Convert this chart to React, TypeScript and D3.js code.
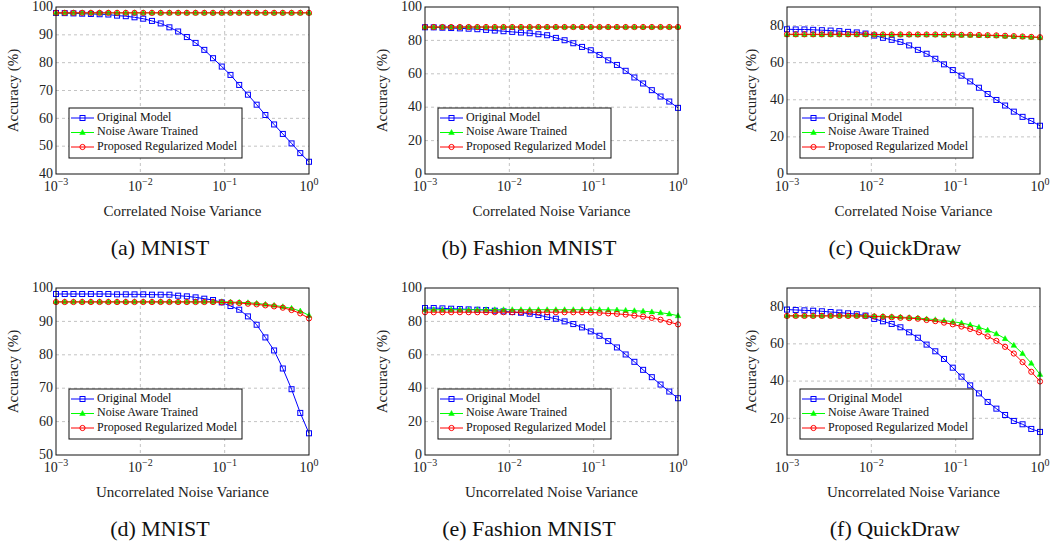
import React, { useRef, useEffect } from 'react';
import * as d3 from 'd3';

// noise variance grid (30 log-spaced points, 1e-3 .. 1)
const variance = [
  0.001, 0.001269, 0.00161, 0.002043, 0.002593, 0.00329, 0.004175, 0.005298, 0.006723, 0.008532,
  0.010826, 0.013738, 0.017433, 0.022122, 0.028072, 0.035622, 0.045204, 0.057362, 0.07279, 0.092367,
  0.11721, 0.148735, 0.188739, 0.239503, 0.30392, 0.385662, 0.48939, 0.621017, 0.788046, 1.0,
];

const seriesNames = ['Original Model', 'Noise Aware Trained', 'Proposed Regularized Model'];

// (a) MNIST, correlated
const mnistCorrOriginal = [97.85, 97.8, 97.7, 97.6, 97.5, 97.4, 97.3, 96.9, 96.7, 96.3, 95.8, 95.0, 94.1, 92.7, 91.2, 89.2, 87.1, 84.6, 81.6, 78.6, 75.6, 72.0, 68.5, 64.9, 61.2, 57.8, 54.4, 51.0, 47.5, 44.4];
const mnistCorrAware = [97.9, 97.9, 97.9, 97.9, 97.9, 97.9, 97.9, 97.9, 97.9, 97.9, 97.9, 97.9, 97.9, 97.9, 97.9, 97.9, 97.9, 97.9, 97.9, 97.9, 97.9, 97.9, 97.9, 97.9, 97.9, 97.9, 97.9, 97.9, 97.9, 97.9];
const mnistCorrReg = [97.9, 97.9, 97.9, 97.9, 97.9, 97.9, 97.9, 97.9, 97.9, 97.9, 97.9, 97.9, 97.9, 97.9, 97.9, 97.9, 97.9, 97.9, 97.9, 97.9, 97.9, 97.9, 97.9, 97.9, 97.9, 97.9, 97.9, 97.9, 97.9, 97.9];

// (b) Fashion MNIST, correlated
const fashionCorrOriginal = [87.85, 87.8, 87.6, 87.4, 87.2, 87.0, 86.7, 86.3, 85.9, 85.5, 85.1, 84.7, 84.3, 83.7, 83.1, 81.5, 80.1, 78.3, 76.1, 74.1, 71.3, 68.1, 65.3, 61.8, 57.8, 54.2, 50.2, 46.4, 43.4, 39.6];
const fashionCorrAware = [88.0, 88.0, 88.0, 88.0, 88.0, 88.0, 88.0, 88.0, 88.0, 88.0, 88.0, 88.0, 88.0, 88.0, 88.0, 88.0, 88.0, 88.0, 88.0, 88.0, 88.0, 88.0, 88.0, 88.0, 88.0, 88.0, 88.0, 88.0, 88.0, 88.0];
const fashionCorrReg = [88.0, 88.0, 88.0, 88.0, 88.0, 88.0, 88.0, 88.0, 88.0, 88.0, 88.0, 88.0, 88.0, 88.0, 88.0, 88.0, 88.0, 88.0, 88.0, 88.0, 88.0, 88.0, 88.0, 88.0, 88.0, 88.0, 88.0, 88.0, 88.0, 88.0];

// (c) QuickDraw, correlated
const quickCorrOriginal = [78.0, 77.9, 77.9, 77.7, 77.5, 77.3, 77.0, 76.6, 76.3, 75.7, 74.6, 73.4, 72.3, 71.2, 69.3, 66.9, 64.8, 62.1, 59.1, 56.0, 53.0, 49.9, 46.5, 43.1, 39.9, 36.9, 33.6, 30.8, 28.6, 26.0];
const quickCorrAware = [75.1, 75.1, 75.1, 75.1, 75.1, 75.1, 75.1, 75.1, 75.1, 75.1, 75.0, 75.0, 75.0, 75.0, 75.0, 75.0, 75.0, 75.0, 74.9, 74.9, 74.8, 74.8, 74.7, 74.6, 74.5, 74.3, 74.1, 73.9, 73.7, 73.5];
const quickCorrReg = [75.3, 75.3, 75.3, 75.3, 75.3, 75.3, 75.3, 75.3, 75.3, 75.3, 75.2, 75.2, 75.2, 75.2, 75.2, 75.2, 75.2, 75.2, 75.1, 75.1, 75.0, 75.0, 74.9, 74.8, 74.7, 74.5, 74.3, 74.1, 73.9, 73.7];

// (d) MNIST, uncorrelated
const mnistUncOriginal = [98.2, 98.2, 98.2, 98.2, 98.2, 98.2, 98.2, 98.1, 98.1, 98.1, 98.1, 98.0, 98.0, 98.0, 97.7, 97.5, 97.2, 96.8, 96.4, 95.7, 94.6, 93.5, 91.5, 89.0, 85.2, 81.3, 75.9, 69.7, 62.6, 56.5];
const mnistUncAware = [95.9, 95.9, 95.9, 95.9, 95.9, 95.9, 95.9, 95.9, 95.9, 95.9, 95.9, 95.9, 95.9, 95.9, 95.9, 95.9, 95.9, 95.9, 95.9, 95.9, 95.8, 95.7, 95.6, 95.4, 95.1, 94.8, 94.4, 93.9, 93.1, 91.8];
const mnistUncReg = [95.8, 95.8, 95.8, 95.8, 95.8, 95.8, 95.8, 95.8, 95.8, 95.8, 95.8, 95.8, 95.8, 95.8, 95.8, 95.8, 95.8, 95.8, 95.8, 95.7, 95.6, 95.5, 95.3, 95.1, 94.8, 94.5, 94.1, 93.4, 92.4, 90.9];

// (e) Fashion MNIST, uncorrelated
const fashionUncOriginal = [88.0, 88.0, 87.8, 87.6, 87.4, 87.2, 87.0, 86.8, 86.4, 86.0, 85.6, 85.2, 84.6, 83.8, 82.6, 81.6, 80.0, 78.4, 76.4, 74.0, 71.4, 68.2, 64.4, 60.2, 55.8, 51.0, 46.6, 42.2, 38.0, 34.0];
const fashionUncAware = [87.0, 87.0, 87.0, 87.0, 87.0, 87.0, 87.0, 87.0, 87.0, 87.0, 87.0, 87.0, 87.0, 87.0, 87.0, 87.0, 87.0, 87.0, 87.0, 87.0, 87.0, 86.9, 86.8, 86.6, 86.4, 86.1, 85.7, 85.2, 84.5, 83.4];
const fashionUncReg = [85.5, 85.5, 85.5, 85.5, 85.5, 85.5, 85.5, 85.5, 85.5, 85.5, 85.5, 85.5, 85.5, 85.5, 85.5, 85.5, 85.5, 85.5, 85.5, 85.3, 85.1, 84.8, 84.5, 84.1, 83.5, 82.9, 82.1, 81.0, 79.6, 78.2];

// (f) QuickDraw, uncorrelated
const quickUncOriginal = [78.4, 78.2, 78.0, 77.8, 77.5, 77.1, 76.8, 76.4, 75.9, 75.2, 73.4, 72.1, 70.7, 68.9, 66.2, 63.3, 59.6, 56.0, 51.9, 47.2, 42.4, 37.7, 33.4, 28.8, 25.2, 21.8, 18.6, 16.8, 14.3, 12.7];
const quickUncAware = [75.1, 75.1, 75.1, 75.1, 75.1, 75.1, 75.1, 75.1, 75.1, 75.0, 74.9, 74.8, 74.6, 74.4, 74.1, 73.9, 73.4, 73.0, 72.5, 71.9, 71.2, 70.2, 68.9, 67.3, 65.4, 62.8, 59.2, 54.8, 49.6, 43.6];
const quickUncReg = [75.0, 75.0, 75.0, 75.0, 75.0, 75.0, 75.0, 75.0, 75.0, 74.9, 74.7, 74.5, 74.3, 74.0, 73.8, 73.5, 72.8, 72.2, 71.4, 70.5, 69.3, 68.0, 66.2, 64.0, 61.6, 58.4, 54.8, 50.2, 45.0, 39.8];

const xTicks = [-3, -2, -1, 0];

const panels = [
  { caption: '(a) MNIST', xlabel: 'Correlated Noise Variance', col: 0, row: 0, yDomain: [40, 100], yTicks: [40, 50, 60, 70, 80, 90, 100], series: [mnistCorrOriginal, mnistCorrAware, mnistCorrReg] },
  { caption: '(b) Fashion MNIST', xlabel: 'Correlated Noise Variance', col: 1, row: 0, yDomain: [0, 100], yTicks: [0, 20, 40, 60, 80, 100], series: [fashionCorrOriginal, fashionCorrAware, fashionCorrReg] },
  { caption: '(c) QuickDraw', xlabel: 'Correlated Noise Variance', col: 2, row: 0, yDomain: [0, 90], yTicks: [0, 20, 40, 60, 80], series: [quickCorrOriginal, quickCorrAware, quickCorrReg] },
  { caption: '(d) MNIST', xlabel: 'Uncorrelated Noise Variance', col: 0, row: 1, yDomain: [50, 100], yTicks: [50, 60, 70, 80, 90, 100], series: [mnistUncOriginal, mnistUncAware, mnistUncReg] },
  { caption: '(e) Fashion MNIST', xlabel: 'Uncorrelated Noise Variance', col: 1, row: 1, yDomain: [0, 100], yTicks: [0, 20, 40, 60, 80, 100], series: [fashionUncOriginal, fashionUncAware, fashionUncReg] },
  { caption: '(f) QuickDraw', xlabel: 'Uncorrelated Noise Variance', col: 2, row: 1, yDomain: [0.3, 90], yTicks: [20, 40, 60, 80], series: [quickUncOriginal, quickUncAware, quickUncReg] },
];

const colors = ['#0000ff', '#00ff00', '#ff0000'];
const font = '"Liberation Serif", "Times New Roman", Times, serif';

const App = () => {
  const ref = useRef<SVGSVGElement>(null);

  useEffect(() => {
    const svg = d3.select(ref.current);
    svg.selectAll('*').remove();

    const colLeft = [56, 425, 787];
    const rowTop = [7, 288];
    const w = 253, h = 167;

    panels.forEach((p) => {
      const left = colLeft[p.col], top = rowTop[p.row];
      const right = left + w, bottom = top + h;
      const labelOffset = p.yTicks[p.yTicks.length - 1] >= 100 ? 41 : 34;

      const x = d3.scaleLog().domain([1e-3, 1]).range([left, right]);
      const y = d3.scaleLinear().domain(p.yDomain).range([bottom, top]);

      const g = svg.append('g');

      // grid
      g.selectAll('line.gx').data(xTicks.slice(1, -1)).enter().append('line')
        .attr('x1', (d) => x(Math.pow(10, d))).attr('x2', (d) => x(Math.pow(10, d)))
        .attr('y1', top).attr('y2', bottom)
        .attr('stroke', '#b4b4b4').attr('stroke-width', 0.8).attr('stroke-dasharray', '3,3');
      g.selectAll('line.gy').data(p.yTicks.filter((t) => y(t) > top + 0.5 && y(t) < bottom - 0.5)).enter().append('line')
        .attr('x1', left).attr('x2', right)
        .attr('y1', (d) => y(d)).attr('y2', (d) => y(d))
        .attr('stroke', '#b4b4b4').attr('stroke-width', 0.8).attr('stroke-dasharray', '3,3');

      // tick labels
      g.selectAll('text.yt').data(p.yTicks).enter().append('text')
        .attr('x', left - 3).attr('y', (d) => y(d) + 1)
        .attr('text-anchor', 'end').attr('dominant-baseline', 'middle')
        .attr('font-family', font).attr('font-size', 14).attr('fill', '#222')
        .text((d) => d);

      xTicks.forEach((e) => {
        const t = g.append('text')
          .attr('x', x(Math.pow(10, e))).attr('y', bottom + 17)
          .attr('text-anchor', 'middle')
          .attr('font-family', font).attr('font-size', 14).attr('fill', '#222');
        t.append('tspan').text('10');
        t.append('tspan').attr('dy', -6).attr('font-size', 10).text(e === 0 ? '0' : '\u2212' + Math.abs(e));
      });

      // axis labels
      g.append('text')
        .attr('x', (left + right) / 2).attr('y', bottom + 42)
        .attr('text-anchor', 'middle')
        .attr('font-family', font).attr('font-size', 15).attr('fill', '#222')
        .text(p.xlabel);
      g.append('text')
        .attr('transform', `translate(${left - labelOffset},${(top + bottom) / 2}) rotate(-90)`)
        .attr('text-anchor', 'middle').attr('dominant-baseline', 'middle')
        .attr('font-family', font).attr('font-size', 15).attr('fill', '#222')
        .text('Accuracy (%)');

      // caption
      g.append('text')
        .attr('x', (left + right) / 2 - labelOffset * 0.55).attr('y', bottom + 81)
        .attr('text-anchor', 'middle')
        .attr('font-family', font).attr('font-size', 22).attr('fill', '#111')
        .text(p.caption);

      // series
      const line = d3.line<number>()
        .x((d, i) => x(variance[i]))
        .y((d) => y(d));

      p.series.forEach((vals, si) => {
        const sg = g.append('g');
        sg.append('path').datum(vals)
          .attr('d', line).attr('fill', 'none')
          .attr('stroke', colors[si]).attr('stroke-width', 1);
        drawMarkers(sg, vals.map((v, i) => [x(variance[i]), y(v)]), si);
      });

      // frame
      g.append('rect')
        .attr('x', left).attr('y', top).attr('width', w).attr('height', h)
        .attr('fill', 'none').attr('stroke', '#111').attr('stroke-width', 1);

      // legend
      const lx = left + 13, ly = bottom - 66;
      const lg = g.append('g');
      lg.append('rect')
        .attr('x', lx).attr('y', ly).attr('width', 173).attr('height', 50)
        .attr('fill', 'white').attr('stroke', '#111').attr('stroke-width', 1);
      seriesNames.forEach((name, si) => {
        const ry = ly + 10 + si * 14.5;
        lg.append('line')
          .attr('x1', lx + 2).attr('x2', lx + 25).attr('y1', ry).attr('y2', ry)
          .attr('stroke', colors[si]).attr('stroke-width', 1);
        drawMarkers(lg, [[lx + 13.5, ry]], si);
        lg.append('text')
          .attr('x', lx + 28).attr('y', ry)
          .attr('dominant-baseline', 'middle')
          .attr('font-family', font).attr('font-size', 12).attr('fill', '#111')
          .text(name);
      });
    });

    function drawMarkers(sel: any, pts: number[][], si: number) {
      if (si === 0) {
        sel.selectAll(null).data(pts).enter().append('rect')
          .attr('x', (d: number[]) => d[0] - 2.5).attr('y', (d: number[]) => d[1] - 2.5)
          .attr('width', 5).attr('height', 5)
          .attr('fill', 'none').attr('stroke', colors[0]).attr('stroke-width', 1);
      } else if (si === 1) {
        sel.selectAll(null).data(pts).enter().append('path')
          .attr('d', (d: number[]) => `M${d[0]},${d[1] - 3} L${d[0] + 2.8},${d[1] + 2} L${d[0] - 2.8},${d[1] + 2} Z`)
          .attr('fill', colors[1]).attr('stroke', colors[1]).attr('stroke-width', 0.5);
      } else {
        sel.selectAll(null).data(pts).enter().append('circle')
          .attr('cx', (d: number[]) => d[0]).attr('cy', (d: number[]) => d[1]).attr('r', 2.6)
          .attr('fill', 'none').attr('stroke', colors[2]).attr('stroke-width', 1);
      }
    }
  }, []);

  return (
    <div style={{ position: 'absolute', left: 0, top: 0 }}>
      <svg ref={ref} width={1051} height={541} style={{ display: 'block', background: 'white' }} />
    </div>
  );
};

export default App;
